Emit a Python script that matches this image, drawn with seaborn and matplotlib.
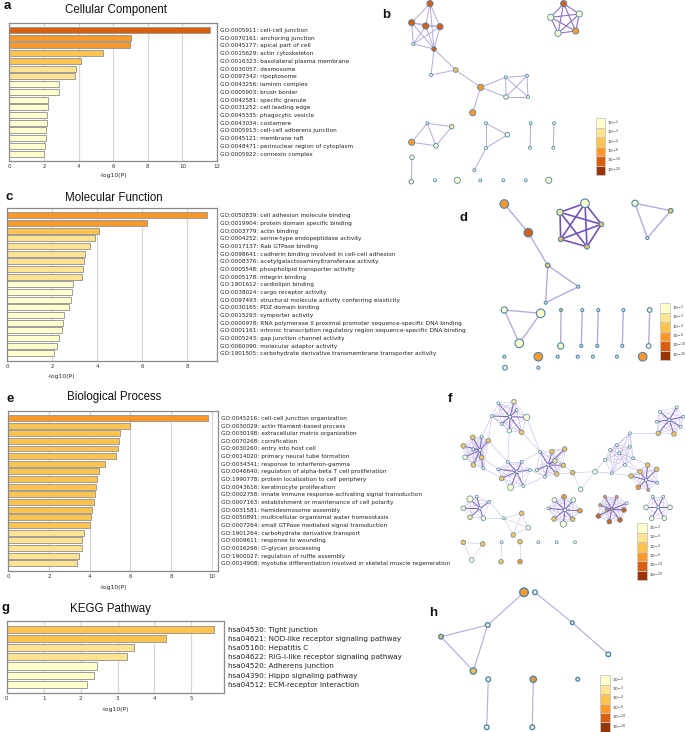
import numpy as np
import pandas as pd
import matplotlib
matplotlib.use("Agg")
import matplotlib.pyplot as plt
from matplotlib.patches import Rectangle
import seaborn as sns

sns.set_style("white")
plt.rcParams['font.family'] = ['DejaVu Sans']

W, H = 685, 732

# ---------------- bar chart data ----------------
cc_terms = ["GO:0005911: cell-cell junction", "GO:0070161: anchoring junction", "GO:0045177: apical part of cell",
            "GO:0015629: actin cytoskeleton", "GO:0016323: basolateral plasma membrane", "GO:0030057: desmosome",
            "GO:0097342: ripoptosome", "GO:0043256: laminin complex", "GO:0005903: brush border",
            "GO:0042581: specific granule", "GO:0031252: cell leading edge", "GO:0045335: phagocytic vesicle",
            "GO:0043034: costamere", "GO:0005913: cell-cell adherens junction", "GO:0045121: membrane raft",
            "GO:0048471: perinuclear region of cytoplasm", "GO:0005922: connexin complex"]
cc_values = [11.6, 7.03, 6.99, 5.44, 4.13, 3.86, 3.78, 2.9, 2.9, 2.22, 2.22, 2.2, 2.16, 2.1, 2.1, 2.05, 2.03]

mf_terms = ["GO:0050839: cell adhesion molecule binding", "GO:0019904: protein domain specific binding",
            "GO:0003779: actin binding", "GO:0004252: serine-type endopeptidase activity",
            "GO:0017137: Rab GTPase binding", "GO:0098641: cadherin binding involved in cell-cell adhesion",
            "GO:0008376: acetylgalactosaminyltransferase activity", "GO:0005548: phospholipid transporter activity",
            "GO:0005178: integrin binding", "GO:1901612: cardiolipin binding", "GO:0038024: cargo receptor activity",
            "GO:0097493: structural molecule activity conferring elasticity", "GO:0030165: PDZ domain binding",
            "GO:0015293: symporter activity",
            "GO:0000978: RNA polymerase II proximal promoter sequence-specific DNA binding",
            "GO:0001161: intronic transcription regulatory region sequence-specific DNA binding",
            "GO:0005243: gap junction channel activity", "GO:0060090: molecular adaptor activity",
            "GO:1901505: carbohydrate derivative transmembrane transporter activity"]
mf_values = [8.89, 6.19, 4.09, 3.88, 3.69, 3.44, 3.42, 3.38, 3.32, 2.93, 2.89, 2.83, 2.76, 2.53, 2.49,
             2.44, 2.30, 2.19, 2.09]

bp_terms = ["GO:0045216: cell-cell junction organization", "GO:0030029: actin filament-based process",
            "GO:0030198: extracellular matrix organization", "GO:0070268: cornification",
            "GO:0030260: entry into host cell", "GO:0014020: primary neural tube formation",
            "GO:0034341: response to interferon-gamma", "GO:0046640: regulation of alpha-beta T cell proliferation",
            "GO:1990778: protein localization to cell periphery", "GO:0043616: keratinocyte proliferation",
            "GO:0002758: innate immune response-activating signal transduction",
            "GO:0007163: establishment or maintenance of cell polarity", "GO:0031581: hemidesmosome assembly",
            "GO:0050891: multicellular organismal water homeostasis",
            "GO:0007264: small GTPase mediated signal transduction", "GO:1901264: carbohydrate derivative transport",
            "GO:0009611: response to wounding", "GO:0016266: O-glycan processing",
            "GO:1900027: regulation of ruffle assembly",
            "GO:0014908: myotube differentiation involved in skeletal muscle regeneration"]
bp_values = [9.82, 5.98, 5.5, 5.45, 5.4, 5.27, 4.73, 4.47, 4.37, 4.29, 4.27, 4.19, 4.12, 4.08, 4.03,
             3.72, 3.63, 3.62, 3.49, 3.36]

kegg_terms = ["hsa04530: Tight junction", "hsa04621: NOD-like receptor signaling pathway", "hsa05160: Hepatitis C",
              "hsa04622: RIG-I-like receptor signaling pathway", "hsa04520: Adherens junction",
              "hsa04390: Hippo signaling pathway", "hsa04512: ECM-receptor interaction"]
kegg_values = [5.61, 4.3, 3.44, 3.25, 2.45, 2.36, 2.18]

# colour scale (legend: 1e-2, 1e-3, 1e-4, 1e-6, 1e-10, 1e-20)
legend_labels = ["$10^{-2}$", "$10^{-3}$", "$10^{-4}$", "$10^{-6}$", "$10^{-10}$", "$10^{-20}$"]
PAL = ['#FFFFCC', '#FEE391', '#FEC44F', '#FE9929', '#D95F0E', '#993404']
BINS = [3, 4, 6, 10, 20]

fig = plt.figure(figsize=(W / 100, H / 100), dpi=100)


def px_rect(x0, y0, x1, y1):
    return [x0 / W, 1 - y1 / H, (x1 - x0) / W, (y1 - y0) / H]


def bar_panel(box, terms, values, xmax, xticks, fs, xlab_pos=0.5):
    ax = fig.add_axes(px_rect(*box))
    df = pd.DataFrame({'term': terms, 'v': values})
    cls = np.digitize(values, BINS)
    colors = [PAL[c] for c in cls]
    sns.barplot(data=df, x='v', y='term', hue='term', palette=colors, legend=False, ax=ax,
                width=0.78, edgecolor='#9c9c9c', linewidth=0.7, orient='h', saturation=1)
    n = len(values)
    ax.set_xlim(0, xmax)
    ax.set_ylim(n - 1 + 0.95, -0.9)
    ax.set_xticks(xticks)
    ax.set_xticklabels([str(t) for t in xticks])
    ax.yaxis.tick_right()
    ax.set_ylabel('')
    ax.set_xlabel('-log10(P)', fontsize=4.3, labelpad=3)
    ax.xaxis.set_label_coords(xlab_pos, -0.09 if n > 10 else -0.2)
    ax.tick_params(axis='y', length=0, pad=2.5, labelsize=fs, colors='#222222')
    ax.tick_params(axis='x', length=0, pad=2.5, labelsize=4.0, colors='#333333')
    ax.grid(axis='x', color='#d6d6d6', lw=0.9)
    ax.grid(axis='y', visible=False)
    ax.set_axisbelow(True)
    for s in ax.spines.values():
        s.set_color('#8a8a8a')
        s.set_linewidth(0.9)
    return ax


bar_panel((9.3, 23, 217, 161), cc_terms, cc_values, 12, [0, 2, 4, 6, 8, 10, 12], 4.15)
bar_panel((7.3, 208.3, 216.7, 360.7), mf_terms, mf_values, 9.3, [0, 2, 4, 6, 8], 4.15, xlab_pos=0.26)
bar_panel((8.3, 411, 218, 570.5), bp_terms, bp_values, 10.3, [0, 2, 4, 6, 8, 10], 4.15)
bar_panel((6.7, 621, 224.3, 693), kegg_terms, kegg_values, 5.89, [0, 1, 2, 3, 4, 5], 5.2)

# titles and panel letters
for tx, ty, t in [(116, 10, "Cellular Component"), (114, 197.7, "Molecular Function"),
                  (114, 396.7, "Biological Process"), (110, 609, "KEGG Pathway")]:
    fig.text(tx / W, 1 - ty / H, t, ha='center', va='center', fontsize=8.3,
             family=['Liberation Sans', 'DejaVu Sans'], color='#111111')
for tx, ty, t in [(7, 6, "a"), (386, 15, "b"), (9.5, 197, "c"), (463, 218, "d"),
                  (10, 398.5, "e"), (449.5, 398.5, "f"), (5, 608.5, "g"), (433.5, 612.5, "h")]:
    fig.text(tx / W, 1 - ty / H, t, ha='center', va='center', fontsize=9.5, fontweight='bold',
             family=['Liberation Sans', 'DejaVu Sans'], color='#111111')

# ---------------- network data (pixel layout) ----------------
b_x = [430, 411.7, 425.7, 440, 413.3, 434, 431, 455.7, 480.7, 472.7, 505.7, 527, 506, 528,
       563.7, 550.7, 579.3, 558, 575.7, 427.3, 451.7, 411.7, 436, 486, 507.3, 486, 474.3,
       530.7, 530, 554, 553.3, 412, 411.3, 435, 457.3, 480.3, 503.3, 525.7, 548.7]
b_y = [3.6, 22.7, 26, 26.7, 44, 49, 75, 70, 87.3, 112.7, 77.3, 75.7, 97, 97,
       3.6, 17.3, 14, 33.3, 31, 123.3, 126.7, 142.3, 145.7, 123.3, 134.7, 148, 170.3,
       123.3, 147.7, 123.3, 147.7, 157.3, 181.7, 180.3, 180.3, 180.3, 180.3, 180.3, 180.3]
b_size = [3, 3, 3, 3, 1, 2, 1, 2, 3, 3, 1, 1, 2, 1,
          3, 3, 3, 3, 3, 1, 2, 3, 2, 1, 2, 1, 1,
          1, 1, 1, 1, 2, 2, 1, 3, 1, 1, 1, 3]
b_cls = [4, 4, 4, 4, 0, 4, 0, 2, 3, 3, 0, 0, 0, 0,
         4, 0, 0, 0, 3, 0, 1, 3, 0, 0, 0, 0, 0,
         0, 0, 0, 0, 0, 0, 0, 0, 0, 0, 0, 0]
b_edges = [(0, 1), (0, 2), (0, 3), (1, 2), (2, 3), (1, 3), (1, 4), (1, 5), (2, 4), (2, 5), (3, 4), (3, 5),
           (0, 5), (4, 5), (5, 6), (5, 7), (6, 7), (7, 8), (8, 9), (8, 10), (8, 12), (10, 11), (10, 12),
           (11, 13), (12, 13), (10, 13), (11, 12), (19, 20), (19, 21), (19, 22), (21, 22), (20, 22),
           (23, 24), (23, 25), (24, 25), (25, 26), (27, 28), (29, 30), (31, 32)]
b_strong = [(14, 15), (14, 16), (14, 17), (14, 18), (15, 16), (15, 17), (15, 18), (16, 17), (16, 18), (17, 18)]

d_x = [504.3, 528.3, 547.7, 578.3, 545.7, 560, 585, 601.3, 587, 560.7, 635, 670.7, 647.3,
       504.3, 540.7, 519.3, 561, 582.3, 598.3, 623.3, 649.7, 560.7, 581.3, 597.3, 622.3, 648.7,
       504.3, 538.3, 557.7, 577.7, 593, 617, 642.7, 505, 538.3]
d_y = [204, 232.7, 265.3, 286.7, 302.7, 212.3, 203.3, 224.3, 246.7, 239.3, 203.3, 210.7, 238,
       310, 313.3, 343.3, 310, 310, 310, 310, 310, 346, 346, 346, 346, 346,
       356.7, 356.7, 356.7, 356.7, 356.7, 356.7, 356.7, 367.7, 367.7]
d_size = [4, 4, 2, 1, 1, 3, 4, 2, 2, 2, 3, 2, 1,
          3, 4, 4, 1, 1, 1, 1, 2, 3, 1, 1, 1, 2,
          1, 4, 1, 1, 1, 1, 4, 2, 1]
d_cls = [3, 4, 2, 0, 0, 1, 0, 2, 2, 2, 0, 2, 0,
         0, 0, 0, 2, 0, 0, 0, 0, 0, 0, 0, 0, 0,
         0, 3, 0, 0, 0, 0, 3, 0, 0]
d_edges = [(0, 1), (1, 2), (2, 3), (2, 4), (3, 4), (10, 11), (10, 12), (11, 12), (13, 14), (13, 15),
           (14, 15), (16, 21), (17, 22), (18, 23), (19, 24), (20, 25)]
d_strong = [(5, 6), (6, 7), (7, 8), (8, 9), (9, 5), (5, 7), (5, 8), (6, 8), (6, 9), (7, 9)]

h_x = [524, 535, 487.7, 441, 473.3, 572.3, 608.3, 488.3, 486.7, 533.3, 532.3, 577.7]
h_y = [592.3, 592.3, 625, 636.7, 671, 622.7, 654.3, 679.3, 727.3, 679.3, 727.3, 679.3]
h_size = [4, 2, 2, 2, 3, 1.5, 2, 2, 2, 3, 2, 1.5]
h_cls = [3, 0, 0, 2, 2, 0, 0, 0, 0, 3, 0, 0]
h_edges = [(0, 2), (2, 3), (2, 4), (3, 4), (1, 5), (5, 6), (7, 8), (9, 10)]

f_x = [498.3, 514, 526.7, 516.7, 491.7, 501.7, 509.3, 521.7, 510,
       463.3, 472.7, 481.7, 488.3, 465, 473.3, 481.7, 473.3, 483.3, 480,
       507.7, 521.7, 501.7, 510.7, 523.3, 530, 516.7, 498.3,
       540, 552, 564.7, 555, 563.3, 556.7, 545, 536.7, 548.3,
       572.7, 595, 580.7,
       630, 605, 611.7, 619.3, 633.3, 625, 616.7, 610, 630,
       640, 647.7, 656.7, 631, 638.3, 648.3, 657.3, 646,
       660, 676.7, 683.3, 680.7, 674, 658.3, 656.7, 669.3,
       470, 476.7, 489.3, 463.3, 483.3, 470, 480,
       504, 521.7, 513.3, 528.3,
       565, 554.3, 564, 573.3, 580, 572.7, 563.3, 554, 548.3,
       611.7, 605, 616.7, 600, 598.3, 609.3, 620, 624, 626.7, 606.7,
       652.7, 663.3, 670, 664.3, 651.7, 646, 658.3,
       463.3, 482.7, 471.7, 501.7, 501, 520, 520, 538.3, 556.7, 575]
f_y = [403.3, 401.7, 417.3, 410, 416, 424, 430.7, 432.3, 416.7,
       446, 437.3, 436.7, 440.7, 457.3, 465, 457.3, 449.3, 468.3, 450,
       461.7, 461.7, 478.3, 487.3, 486, 470, 471.7, 469.3,
       451.7, 451.7, 449, 461, 465.3, 474, 476.7, 470, 465,
       472.7, 471.7, 489.3,
       433.3, 460, 473.3, 453.3, 458.3, 465, 445, 450, 446.7,
       471.7, 465, 469.3, 476, 487.3, 490, 482.7, 480,
       411.7, 407.3, 416.7, 426.7, 434, 433.3, 421.7, 420,
       499, 496.7, 501.7, 508.3, 518.3, 517.3, 508.3,
       518.3, 513.3, 535, 527.7,
       510, 500, 496.7, 500, 510.7, 519.3, 524, 519, 508.3,
       509.3, 496.7, 496.7, 505, 516, 521.7, 520, 510, 503.3, 510,
       496.7, 496.7, 507.3, 518.3, 518.3, 507.3, 507.3,
       542.3, 544, 560, 542.3, 561.7, 541.7, 561.7, 542.3, 542.3, 542.3]
f_size = [1, 2, 3, 1, 1, 1, 2, 2, 1,
          2, 2, 1, 2, 2, 2, 2, 1, 1, 1,
          1, 1, 2, 3, 1, 1, 1, 1,
          1, 2, 2, 2, 2, 2, 1, 1, 1,
          2, 2, 2,
          1, 1, 1, 1, 1, 1, 1, 1, 1,
          2, 2, 2, 2, 2, 1, 1, 1,
          1, 1, 1, 1, 2, 2, 1, 1,
          3, 1, 1, 2, 2, 2, 1,
          1, 2, 2, 2,
          1, 2, 2, 2, 2, 2, 3, 2, 1,
          1, 1, 1, 1, 2, 2, 2, 2, 1, 1,
          1, 1, 2, 2, 2, 2, 1,
          2, 2, 2, 1, 2, 2, 2, 1, 1, 1]
f_cls = [0, 1, 0, 0, 0, 0, 0, 2, 0,
         2, 2, 0, 2, 0, 2, 2, 0, 0, 0,
         0, 0, 2, 0, 0, 0, 0, 0,
         0, 2, 2, 1, 2, 2, 0, 0, 0,
         2, 0, 0,
         0, 0, 0, 0, 0, 0, 0, 0, 0,
         2, 2, 2, 2, 3, 3, 0, 0,
         0, 0, 0, 0, 2, 2, 0, 0,
         0, 0, 0, 0, 0, 1, 0,
         0, 2, 2, 0,
         0, 0, 3, 0, 3, 2, 0, 2, 0,
         3, 3, 3, 3, 4, 4, 4, 4, 0, 3,
         0, 0, 0, 0, 0, 0, 0,
         2, 2, 0, 0, 2, 2, 3, 0, 0, 0]
f_group = (["A"] * 9 + ["B"] * 10 + ["C"] * 8 + ["D"] * 9 + ["R"] * 3 + ["E"] * 9 + ["Q"] * 8 +
           ["G"] * 8 + ["H"] * 7 + ["T"] * 4 + ["I"] * 9 + ["J"] * 10 + ["K"] * 7 + ["L"] * 3 +
           ["M"] * 2 + ["N"] * 2 + ["S1", "S2", "S3"])
f_hubs = [8, 18, 25, 35, 55, 63, 70, 75, 84, 100]
f_links = [(4, 12), (11, 4), (6, 19), (7, 27), (2, 27), (15, 26), (17, 21), (12, 19), (24, 34), (20, 27),
           (23, 33), (24, 33), (31, 36), (32, 36), (37, 40), (37, 41), (41, 51), (43, 49), (44, 48),
           (42, 48), (39, 61), (66, 71), (68, 71)]

# legend boxes (left, top) in pixels
legend_pos = [(595.7, 118.3), (660, 303.3), (637.3, 523.3), (600, 675.2)]

# ---------------- draw networks ----------------
net = fig.add_axes([0, 0, 1, 1])
net.set_xlim(0, W)
net.set_ylim(H, 0)
net.axis('off')
net.patch.set_alpha(0)

SIZES = {1: 4.5, 1.5: 7, 2: 11, 3: 20, 4: 38}
LIGHT = '#b9a9dc'
DARK = '#7453b8'


def draw_edges(xs, ys, edges, color, lw, alpha=1.0):
    for i, j in edges:
        net.plot([xs[i], xs[j]], [ys[i], ys[j]], color=color, lw=lw, alpha=alpha,
                 solid_capstyle='round', zorder=1)


def draw_nodes(xs, ys, sizes, cls, ew=0.6):
    df = pd.DataFrame({'x': xs, 'y': ys, 's': sizes, 'c': cls})
    sns.scatterplot(data=df, x='x', y='y', hue='c', palette={k: PAL[k] for k in range(6)},
                    size='s', sizes=SIZES, legend=False, ax=net, edgecolor='#4a84b3',
                    linewidth=ew, zorder=3)


draw_edges(b_x, b_y, b_edges, LIGHT, 0.7)
draw_edges(b_x, b_y, b_strong, '#8a70c6', 0.8)
draw_nodes(b_x, b_y, b_size, b_cls)

draw_edges(d_x, d_y, d_edges, LIGHT, 1.0)
draw_edges(d_x, d_y, d_strong, DARK, 1.2)
draw_nodes(d_x, d_y, d_size, d_cls, ew=0.8)

# f: edges inside each term cluster, hub spokes, and links between clusters
groups = {}
for idx, g in enumerate(f_group):
    groups.setdefault(g, []).append(idx)
pair_edges, spoke_edges = [], []
for g, members in groups.items():
    for a in range(len(members)):
        for b in range(a + 1, len(members)):
            i, j = members[a], members[b]
            if i in f_hubs or j in f_hubs:
                spoke_edges.append((i, j))
            else:
                pair_edges.append((i, j))
draw_edges(f_x, f_y, pair_edges, '#c4b7e4', 0.4, 0.85)
draw_edges(f_x, f_y, f_links, '#c4b7e4', 0.45, 0.9)
draw_edges(f_x, f_y, spoke_edges, DARK, 0.7, 0.9)
draw_nodes(f_x, f_y, f_size, f_cls, ew=0.5)

draw_edges(h_x, h_y, h_edges, LIGHT, 0.8)
draw_nodes(h_x, h_y, h_size, h_cls, ew=1.0)

# colour legends
cell_h, cell_w = 9.45, 9.6
for lx, ly in legend_pos:
    for k in range(6):
        net.add_patch(Rectangle((lx, ly + k * cell_h), cell_w, cell_h, facecolor=PAL[k],
                                edgecolor='#c8c8c8', lw=0.6, zorder=4))
        net.text(lx + cell_w + 2.0, ly + (k + 0.5) * cell_h, legend_labels[k], fontsize=3.2,
                 va='center', ha='left', color='#333333', zorder=5)

fig.savefig("out.png", dpi=100)
